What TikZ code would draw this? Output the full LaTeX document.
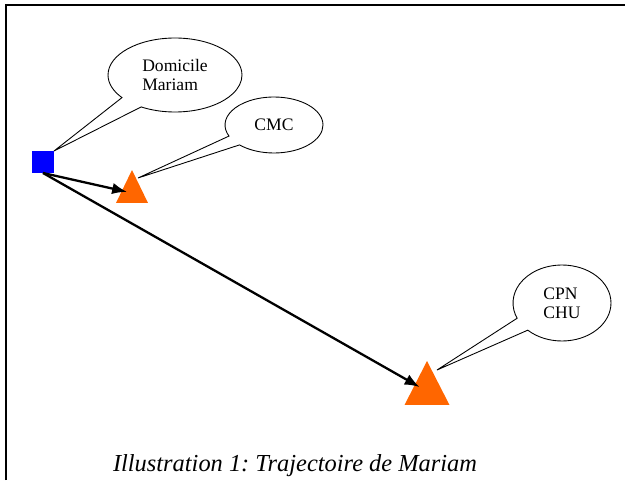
\documentclass[tikz,border=0pt]{standalone}
\usepackage{fontspec}
\setmainfont{Liberation Serif}
\usepackage{xcolor}
\definecolor{home-blue}{RGB}{0,0,255}
\definecolor{site-orange}{RGB}{255,102,0}
\usepackage{tikz}
\usetikzlibrary{shapes.geometric,shapes.callouts,arrows.meta}
\frenchspacing

\begin{document}
\begin{tikzpicture}[
    x=0.02cm, y=-0.02cm,
    every node/.style={inner sep=0pt, outer sep=0pt},
    site/.style={
        isosceles triangle,
        isosceles triangle stretches,
        shape border rotate=90,
        fill=site-orange,
        anchor=apex
    },
    bubble/.style={
        ellipse callout,
        draw=black,
        line width=0.5pt,
        fill=white,
        callout pointer arc=22,
        align=left,
        font=\fontsize{10}{11}\selectfont
    },
    route/.style={
        line width=1.3pt,
        -{Latex[length=8.5pt,width=6.5pt]},
        shorten >=-3pt
    }
]

% Page size
\useasboundingbox (0,0) rectangle (625,480);

% Frame (top and left edges)
\draw[line width=1pt] (6,480) -- (6,5) -- (625,5);

% Home and care sites
\node[fill=home-blue, minimum size=0.44cm] (home) at (43,162) {};
\node[site, minimum width=0.64cm, minimum height=0.66cm] (cmc) at (132,170) {};
\node[site, minimum width=0.9cm, minimum height=0.88cm] (chu) at (427,361) {};

% Routes
\draw[route] (home.south) -- (cmc);
\draw[route] (home.south) -- (chu);

% Labels as callouts
\node[bubble, minimum width=2.68cm, minimum height=1.48cm,
    callout absolute pointer={(home.north east)}] (domlabel) at (175,75) {Domicile\\Mariam};
\node[bubble, minimum width=1.96cm, minimum height=1.12cm,
    callout absolute pointer={([shift={(6,8)}]cmc.apex)}] (cmclabel) at (274,125) {CMC};
\node[bubble, minimum width=1.96cm, minimum height=1.52cm,
    callout absolute pointer={([shift={(10,9)}]chu.apex)}] (chulabel) at (562,303) {CPN\\CHU};

% Caption
\node[anchor=base west, font=\fontsize{13.9}{16}\selectfont\itshape] (caption) at (113,471) {Illustration 1: Trajectoire de Mariam};

\end{tikzpicture}
\end{document}
